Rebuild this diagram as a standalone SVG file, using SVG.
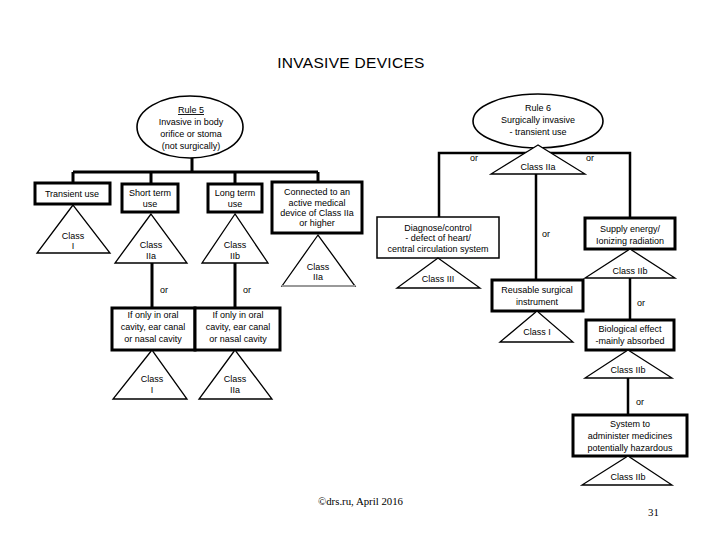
<svg xmlns="http://www.w3.org/2000/svg" width="720" height="540" viewBox="0 0 720 540">
<style>
  text { font-family: "Liberation Sans", Arial, sans-serif; font-size: 9px; fill: #000; text-anchor: middle; }
  .title { font-size: 15.5px; letter-spacing: 0.3px; }
  .foot { font-family: "Liberation Serif", "Times New Roman", serif; font-size: 10.8px; text-anchor: start; }
  .or { text-anchor: start; }
  .thick { fill: #fff; stroke: #000; stroke-width: 3; }
  .thin { fill: #fff; stroke: #000; stroke-width: 1.5; }
  .tri { fill: #fff; stroke: #000; stroke-width: 1.3; }
  .ell { fill: #fff; stroke: #000; stroke-width: 1.6; }
  .conn { fill: none; stroke: #000; stroke-width: 3; }
  .conn2 { fill: none; stroke: #000; stroke-width: 2.5; }
</style>
<rect width="720" height="540" fill="#fff"/>
<text class="title" x="351" y="68">INVASIVE DEVICES</text>

<g id="connectors">
  <path class="conn" d="M192,157 V172 M73,172 H318 M73,172 V183 M151,172 V186 M235,172 V186 M318,172 V182"/>
  <path class="conn" d="M152,263 V308 M235,263 V308"/>
  <path class="conn2" d="M439,217 V153 H630 V218 M536,173 V280 M630,278 V320 M628,378 V415"/>
</g>

<g id="or-labels">
  <text class="or" x="160" y="293">or</text>
  <text class="or" x="243" y="293">or</text>
  <text class="or" x="470" y="161">or</text>
  <text class="or" x="586" y="161">or</text>
  <text class="or" x="542" y="237">or</text>
  <text class="or" x="637" y="306">or</text>
  <text class="or" x="636" y="405">or</text>
</g>

<g id="rule5">
  <ellipse class="ell" cx="190" cy="127" rx="53" ry="31"/>
  <text x="191" y="113" text-decoration="underline">Rule 5</text>
  <text x="191" y="125">Invasive in body</text>
  <text x="191" y="137">orifice or stoma</text>
  <text x="191" y="149">(not surgically)</text>
</g>

<g id="transient">
  <rect class="thick" x="35" y="183" width="75" height="21"/>
  <text x="72" y="197">Transient use</text>
</g>
<g id="tri-class-I-a">
  <polygon class="tri" points="73,205 37,253 110,253"/>
  <text x="73" y="239">Class</text>
  <text x="73" y="249">I</text>
</g>

<g id="shortterm">
  <rect class="thick" x="122" y="184" width="56" height="28"/>
  <text x="150" y="196">Short term</text>
  <text x="150" y="207">use</text>
</g>
<g id="tri-class-IIa-a">
  <polygon class="tri" points="151,214 115,263 187,263"/>
  <text x="151" y="248">Class</text>
  <text x="151" y="259">IIa</text>
</g>

<g id="longterm">
  <rect class="thick" x="208" y="184" width="54" height="28"/>
  <text x="235" y="196">Long term</text>
  <text x="235" y="207">use</text>
</g>
<g id="tri-class-IIb-a">
  <polygon class="tri" points="235,214 202,263 268,263"/>
  <text x="235" y="248">Class</text>
  <text x="235" y="259">IIb</text>
</g>

<g id="connected">
  <rect class="thick" x="272" y="182" width="90" height="51"/>
  <text x="317" y="195">Connected to an</text>
  <text x="317" y="206">active medical</text>
  <text x="317" y="216">device of Class IIa</text>
  <text x="317" y="226">or higher</text>
</g>
<g id="tri-class-IIa-b">
  <polygon class="tri" points="318,235 282,286 355,286"/>
  <line x1="282" y1="286" x2="355" y2="286" stroke="#999" stroke-width="2"/>
  <text x="318" y="270">Class</text>
  <text x="318" y="280">IIa</text>
</g>

<g id="oral-left">
  <rect class="thick" x="112" y="308" width="83" height="42"/>
  <text x="153" y="318">If only in oral</text>
  <text x="153" y="330">cavity, ear canal</text>
  <text x="153" y="342">or nasal cavity</text>
</g>
<g id="tri-class-I-b">
  <polygon class="tri" points="152,350 113,399 187,399"/>
  <text x="152" y="382">Class</text>
  <text x="152" y="393">I</text>
</g>

<g id="oral-right">
  <rect class="thick" x="195" y="308" width="85" height="42"/>
  <text x="238" y="318">If only in oral</text>
  <text x="238" y="330">cavity, ear canal</text>
  <text x="238" y="342">or nasal cavity</text>
</g>
<g id="tri-class-IIa-c">
  <polygon class="tri" points="235,350 199,399 272,399"/>
  <text x="235" y="382">Class</text>
  <text x="235" y="393">IIa</text>
</g>

<g id="rule6">
  <ellipse class="ell" cx="538" cy="121" rx="65" ry="27"/>
  <text x="538" y="111">Rule 6</text>
  <text x="538" y="123">Surgically invasive</text>
  <text x="538" y="135">- transient use</text>
</g>
<g id="tri-class-IIa-r">
  <polygon class="tri" points="538,145 491,174 585,174"/>
  <text x="538" y="170">Class IIa</text>
</g>

<g id="diagnose">
  <rect class="thin" x="377" y="217" width="122" height="41"/>
  <text x="438" y="231">Diagnose/control</text>
  <text x="438" y="241">- defect of heart/</text>
  <text x="438" y="252">central circulation system</text>
</g>
<g id="tri-class-III">
  <polygon class="tri" points="438,258 397,288 480,288"/>
  <text x="438" y="282">Class III</text>
</g>

<g id="reusable">
  <rect class="thick" x="492" y="280" width="91" height="31"/>
  <text x="537" y="293">Reusable surgical</text>
  <text x="537" y="305">instrument</text>
</g>
<g id="tri-class-I-r">
  <polygon class="tri" points="537,311 500,342 573,342"/>
  <text x="537" y="335">Class I</text>
</g>

<g id="supply">
  <rect class="thick" x="585" y="218" width="90" height="31"/>
  <text x="630" y="232">Supply energy/</text>
  <text x="630" y="244">Ionizing radiation</text>
</g>
<g id="tri-class-IIb-r1">
  <polygon class="tri" points="630,249 585,278 675,278"/>
  <text x="630" y="274">Class IIb</text>
</g>

<g id="biological">
  <rect class="thick" x="586" y="320" width="88" height="30"/>
  <text x="630" y="332">Biological effect</text>
  <text x="630" y="344">-mainly absorbed</text>
</g>
<g id="tri-class-IIb-r2">
  <polygon class="tri" points="628,350 585,378 672,378"/>
  <text x="628" y="373">Class IIb</text>
</g>

<g id="system">
  <rect class="thick" x="573" y="415" width="114" height="41"/>
  <text x="630" y="427">System to</text>
  <text x="630" y="439">administer medicines</text>
  <text x="630" y="451">potentially hazardous</text>
</g>
<g id="tri-class-IIb-r3">
  <polygon class="tri" points="628,456 582,485 672,485"/>
  <text x="628" y="480">Class IIb</text>
</g>

<text class="foot" x="318" y="505">©drs.ru, April 2016</text>
<text class="foot" x="648" y="516">31</text>
</svg>
